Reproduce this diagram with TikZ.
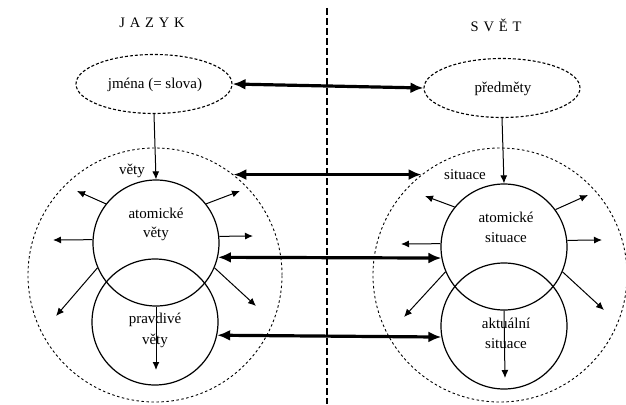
\documentclass[tikz,border=0pt]{standalone}
\usepackage{fontspec}
\setmainfont{Liberation Serif}
\usetikzlibrary{arrows.meta,shapes.geometric}
\begin{document}
\begin{tikzpicture}[x=1pt,y=-1pt,
  lbl/.style={font=\fontsize{15}{17}\selectfont, inner sep=0pt},
  title/.style={font=\fontsize{14.5}{16}\selectfont, inner sep=0pt},
  dell/.style={ellipse, draw, line width=1.1pt, dash pattern=on 3pt off 2pt, inner sep=0pt, minimum width=156pt, minimum height=59pt},
  outer/.style={circle, draw, line width=0.9pt, dash pattern=on 2.5pt off 2.5pt, inner sep=0pt, minimum size=254pt},
  inner/.style={circle, draw, line width=1.2pt, inner sep=0pt, minimum size=126pt},
  thin/.style={line width=1pt, -{Latex[length=8pt,width=7pt]}},
  thick/.style={line width=3.2pt, {Latex[length=13pt,width=11pt]}-{Latex[length=13pt,width=11pt]}},
  divider/.style={line width=1.1pt, dash pattern=on 7pt off 3pt}]
\useasboundingbox (0,0) rectangle (626,404);

% titles
\node[title] (tL) at (152,23) {J\,\,A\,\,Z\,\,Y\,\,K};
\node[title] (tR) at (496,25) {S\,\,V\,\,Ě\,\,T};

% divider
\coordinate (dTop) at (327,8);
\coordinate (dBot) at (327,404);
\draw[divider] (dTop) -- (dBot);

% left side
\node[dell] (nameL) at (154,84) {};
\node[lbl] at (155,85) {jména (= slova)};
\node[outer] (outL) at (155,275) {};
\node[inner] (atomL) at (156,243) {};
\node[inner] (trueL) at (155,322) {};
\node[lbl] at (132,171) {věty};
\node[lbl] at (156,213) {atomické};
\node[lbl] at (156,234) {věty};
\node[lbl] at (155,320) {pravdivé};
\node[lbl] at (155,341) {věty};

% right side
\node[dell] (predR) at (502,88) {};
\node[lbl] at (503,89) {předměty};
\node[outer] (outR) at (500,275) {};
\node[inner] (atomR) at (504,247) {};
\node[inner] (actR) at (504,326) {};
\node[lbl] at (465,175) {situace};
\node[lbl] at (506,217) {atomické};
\node[lbl] at (506,238) {situace};
\node[lbl] at (506,323) {aktuální};
\node[lbl] at (506,344) {situace};

% vertical arrows
\draw[thin] (nameL.south) -- (atomL.north);
\draw[thin] (predR.south) -- (atomR.north);
\coordinate (eTL) at (156,370);
\coordinate (eTR) at (505,378);
\draw[thin] (atomL.south) -- (eTL);
\draw[thin] (atomR.south) -- (eTR);

% radial arrows left
\coordinate (aL1) at (77,191);
\coordinate (aL2) at (240,191);
\coordinate (aL3) at (53,240);
\coordinate (aL4) at (253,236);
\coordinate (aL5) at (56,316);
\coordinate (aL6) at (256,306);
\draw[thin] (atomL.142) -- (aL1);
\draw[thin] (atomL.38) -- (aL2);
\draw[thin] (atomL.177) -- (aL3);
\draw[thin] (atomL.6) -- (aL4);
\draw[thin] (atomL.203) -- (aL5);
\draw[thin] (atomL.337) -- (aL6);

% radial arrows right
\coordinate (aR1) at (425,196);
\coordinate (aR2) at (588,195);
\coordinate (aR3) at (401,244);
\coordinate (aR4) at (602,240);
\coordinate (aR5) at (404,317);
\coordinate (aR6) at (604,310);
\draw[thin] (atomR.141) -- (aR1);
\draw[thin] (atomR.36) -- (aR2);
\draw[thin] (atomR.177) -- (aR3);
\draw[thin] (atomR.6) -- (aR4);
\draw[thin] (atomR.203) -- (aR5);
\draw[thin] (atomR.337) -- (aR6);

% thick double arrows
\draw[thick] (nameL.east) -- (predR.west);
\draw[thick] (outL.52) -- (outR.128);
\draw[thick] (atomL.347) -- (atomR.190);
\draw[thick] (trueL.348) -- (actR.190);
\end{tikzpicture}
\end{document}
